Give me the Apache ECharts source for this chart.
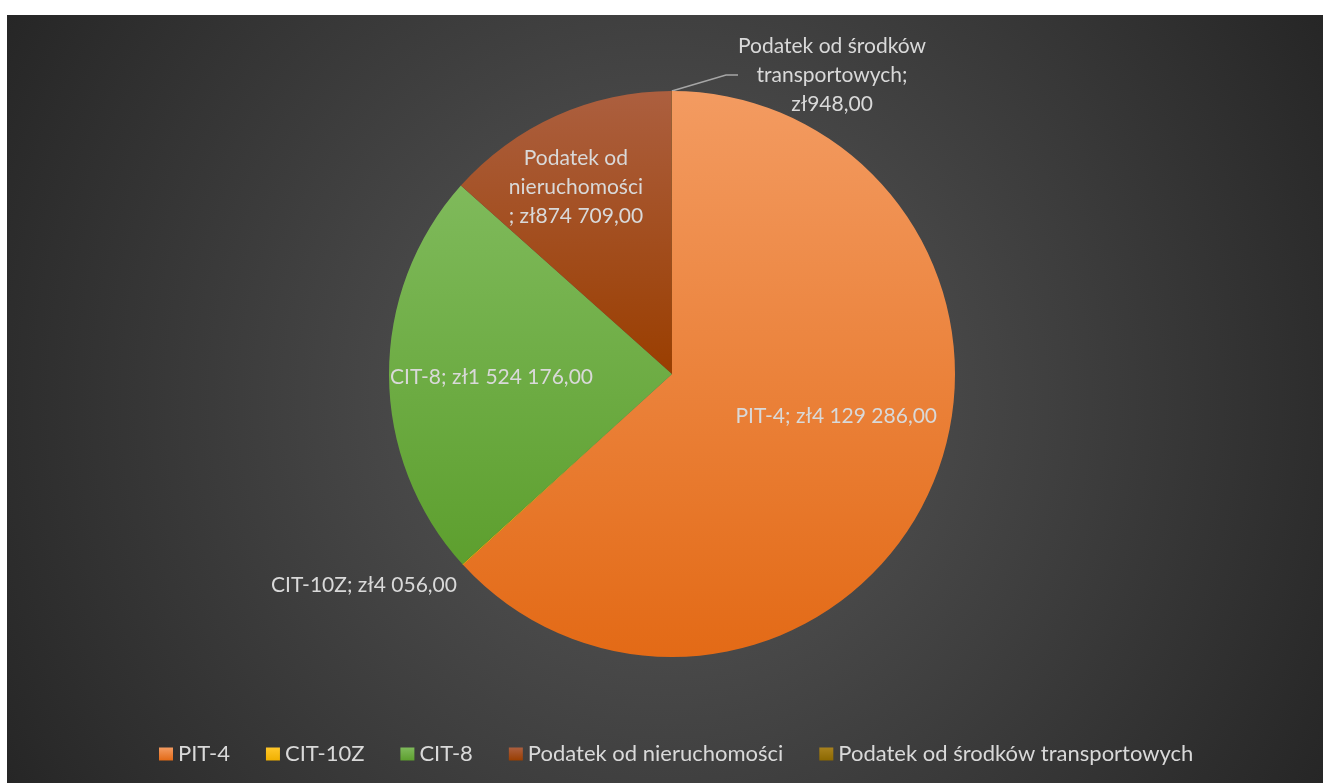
<!DOCTYPE html>
<html>
<head>
<meta charset="utf-8">
<script src="https://cdn.jsdelivr.net/npm/echarts@6/dist/echarts.min.js"></script>
<style>
  html, body { margin: 0; padding: 0; background: #fff; }
  #chart {
    position: absolute; left: 7px; top: 15px; width: 1316px; height: 768px;
    background: radial-gradient(circle farthest-corner at 50% 50%, #5a5a5a 0%, #262626 100%);
  }
</style>
</head>
<body>
<div id="chart"></div>
<script>
// dane wykresu
const categories = ['PIT-4', 'CIT-10Z', 'CIT-8', 'Podatek od nieruchomości', 'Podatek od środków transportowych'];
const values = [4129286, 4056, 1524176, 874709, 948];
// nazwy w etykietach (zawijanie jak w oryginale)
const labelNames = ['PIT-4', 'CIT-10Z', 'CIT-8', 'Podatek od\nnieruchomości\n', 'Podatek od środków\ntransportowych;\n'];

// kolory plasterków: góra / dół gradientu
const colorTop = ['#f39b61', '#ffc72a', '#7fba5b', '#ac5f3f', '#a8821e'];
const colorBottom = ['#e36a16', '#f0b000', '#5d9f2e', '#9a3e00', '#8c6800'];

function fmtZl(v) {
  let s = String(v).replace(/\B(?=(\d{3})+(?!\d))/g, ' ');
  return 'zł' + s + ',00';
}

let myChart = echarts.init(document.getElementById('chart'));

const data = categories.map((name, i) => {
  const item = {
    name: name,
    value: values[i],
    itemStyle: {
      color: {
        type: 'linear', x: 0, y: 0, x2: 0, y2: 1,
        colorStops: [{offset: 0, color: colorTop[i]}, {offset: 1, color: colorBottom[i]}]
      }
    }
  };
  if (i === 1 || i === 4) {
    item.label = { position: 'outside' };
    item.labelLine = { show: i === 4 };
  }
  return item;
});

// przesunięcia etykiet (wg oryginału)
const labelShift = [
  {dx: 32, dy: -16},
  null,
  {dx: -36, dy: 3},
  {dx: -37, dy: -55},
  null
];

let options = {
  backgroundColor: 'transparent',
  textStyle: { fontFamily: 'Lato' },
  legend: {
    bottom: 13,
    left: 147,
    itemWidth: 14,
    itemHeight: 13,
    itemGap: 36,
    icon: 'rect',
    textStyle: { color: '#d9d9d9', fontSize: 22, fontFamily: 'Lato' },
    data: categories
  },
  series: [{
    type: 'pie',
    center: [665, 359],
    radius: 283,
    startAngle: 90,
    clockwise: true,
    avoidLabelOverlap: false,
    itemStyle: { borderWidth: 0 },
    label: {
      show: true,
      position: 'inside',
      color: '#d9d9d9',
      fontSize: 21,
      fontFamily: 'Lato',
      lineHeight: 29,
      align: 'center',
      formatter: function (p) {
        const n = labelNames[p.dataIndex];
        const sep = n.endsWith('\n') ? (n.endsWith(';\n') ? '' : '; ') : '; ';
        return n + sep + fmtZl(p.value);
      }
    },
    labelLine: {
      show: true,
      length: 20,
      length2: 12,
      lineStyle: { color: '#a6a6a6', width: 1.5 }
    },
    labelLayout: function (p) {
      if (p.dataIndex === 1) {
        return { x: 357, y: 570, align: 'center', verticalAlign: 'middle' };
      }
      if (p.dataIndex === 4) {
        return { x: 825, y: 60, align: 'center', verticalAlign: 'middle' };
      }
      return labelShift[p.dataIndex];
    },
    data: data
  }]
};
myChart.setOption(options);
</script>
</body>
</html>
